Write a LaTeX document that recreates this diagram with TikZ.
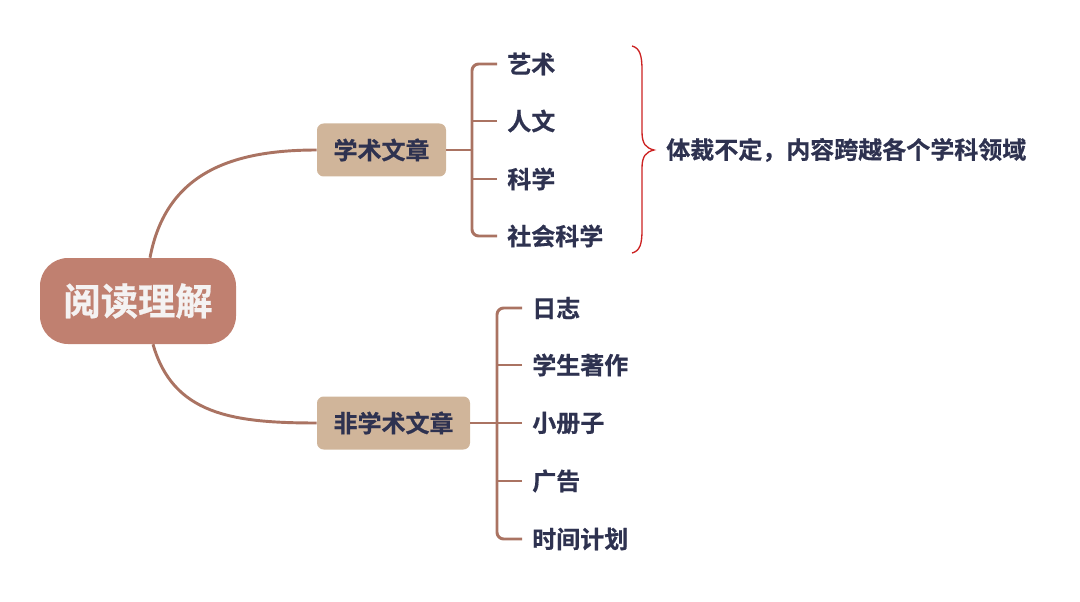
\documentclass[tikz,border=0pt]{standalone}
\usepackage{fontspec}
\newfontfamily\cjk[FakeBold=0.6]{Noto Sans CJK SC Bold}
\usetikzlibrary{calc}
\definecolor{linec}{RGB}{170,115,98}
\definecolor{rootc}{RGB}{192,128,112}
\definecolor{boxc}{RGB}{208,181,154}
\definecolor{txtc}{RGB}{46,50,80}
\definecolor{rootTxt}{RGB}{244,242,242}
\definecolor{bracec}{RGB}{204,34,34}
\tikzset{
  rootbox/.style={fill=rootc,rounded corners=28pt*0.75,minimum width=196*0.75pt,minimum height=86*0.75pt,text=rootTxt,font=\cjk\fontsize{28}{30}\selectfont,inner sep=0pt},
  catbox/.style={fill=boxc,rounded corners=5pt,minimum height=53*0.75pt,text=txtc,font=\cjk\fontsize{18}{20}\selectfont,inner sep=0pt},
  leaf/.style={anchor=west,text=txtc,font=\cjk\fontsize{18}{20}\selectfont,inner sep=0pt},
  conn/.style={draw=linec,line width=2.2pt},
  branch/.style={draw=linec,line width=2.2pt,rounded corners=5pt},
}
\begin{document}
\begin{tikzpicture}[x=0.75pt,y=-0.75pt]
\useasboundingbox (0,0) rectangle (1080,602);
\node[rootbox] (root) at (138,301) {阅读理解};
\node[catbox,minimum width=129*0.75pt] (acad) at (381.5,150) {学术文章};
\node[catbox,minimum width=153*0.75pt] (nonacad) at (393.5,423) {非学术文章};
% leaves upper
\node[leaf] (a1) at (507,64) {艺术};
\node[leaf] (a2) at (507,121) {人文};
\node[leaf] (a3) at (507,179) {科学};
\node[leaf] (a4) at (507,236) {社会科学};
% leaves lower
\node[leaf] (b1) at (532,308) {日志};
\node[leaf] (b2) at (532,365) {学生著作};
\node[leaf] (b3) at (532,423) {小册子};
\node[leaf] (b4) at (532,481) {广告};
\node[leaf] (b5) at (532,539) {时间计划};
% note
\node[leaf] (note) at (666,150) {体裁不定，内容跨越各个学科领域};
% root connectors
\draw[conn] ($(root.north)+(12,0)$) .. controls ($(root.north)+(28,-85)$) and ($(acad.west)+(-85,0)$) .. (acad.west);
\draw[conn] ($(root.south)+(15,0)$) .. controls ($(root.south)+(35,70)$) and ($(nonacad.west)+(-85,0)$) .. (nonacad.west);
% upper bracket
\coordinate (s1) at (472,150);
\draw[conn] (acad.east) -- (s1);
\draw[branch] ([xshift=-10*0.75pt]a1.west) -| (s1);
\draw[branch] ([xshift=-10*0.75pt]a4.west) -| (s1);
\draw[conn] ([xshift=-10*0.75pt]a2.west) -- (s1 |- a2.west);
\draw[conn] ([xshift=-10*0.75pt]a3.west) -- (s1 |- a3.west);
% lower bracket
\coordinate (s2) at (497,423);
\draw[conn] (nonacad.east) -- (s2);
\draw[branch] ([xshift=-10*0.75pt]b1.west) -| (s2);
\draw[branch] ([xshift=-10*0.75pt]b5.west) -| (s2);
\draw[conn] ([xshift=-10*0.75pt]b2.west) -- (s2 |- b2.west);
\draw[conn] ([xshift=-10*0.75pt]b3.west) -- (s2);
\draw[conn] ([xshift=-10*0.75pt]b4.west) -- (s2 |- b4.west);
% brace
\coordinate (tip) at (654,150);
\draw[bracec,line width=1pt] (632,46) .. controls (640,48) and (642,56) .. (642,70)
  -- (642,132) .. controls (642,144) and (646,148) .. (tip)
  .. controls (646,152) and (642,156) .. (642,168)
  -- (642,230) .. controls (642,244) and (640,251) .. (632,253);
\end{tikzpicture}
\end{document}
